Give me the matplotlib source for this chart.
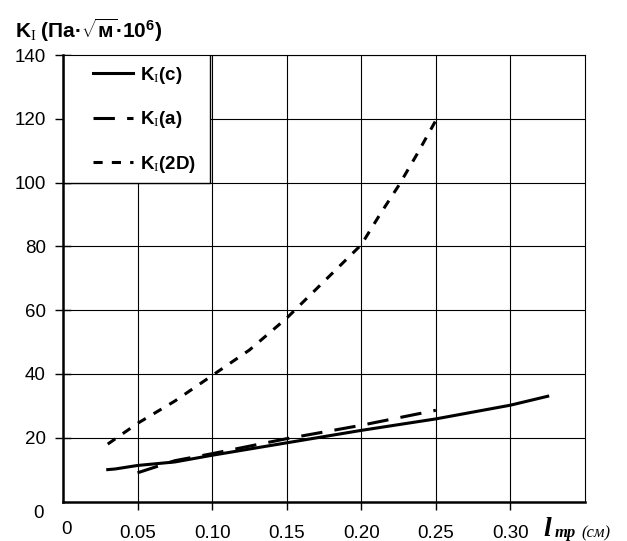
import numpy as np
import matplotlib.pyplot as plt
from matplotlib.patches import Rectangle

plt.rcParams['font.family'] = ['Liberation Sans', 'DejaVu Sans']
plt.rcParams['mathtext.fontset'] = 'custom'
plt.rcParams['mathtext.rm'] = 'Liberation Serif'
plt.rcParams['mathtext.bf'] = 'Liberation Sans:bold'
plt.rcParams['mathtext.it'] = 'Liberation Serif:italic'

# Данные
l_c = [0.03, 0.035, 0.05, 0.075, 0.10, 0.15, 0.20, 0.25, 0.30, 0.325]
k_c = [10, 10.2, 11.3, 12.4, 14.5, 18.4, 22.3, 25.9, 30.2, 33]

l_a = [0.05, 0.075, 0.10, 0.15, 0.20, 0.25]
k_a = [9, 12.8, 15, 19.7, 23.9, 28.6]

l_2d = [0.03, 0.05, 0.075, 0.10, 0.125, 0.15, 0.175, 0.20, 0.2125, 0.225, 0.2375, 0.25]
k_2d = [18, 24.5, 31.5, 39.5, 47.5, 57.5, 69, 80.5, 90, 99, 109, 119.5]

xticks = [0.05, 0.10, 0.15, 0.20, 0.25, 0.30]
yticks = [20, 40, 60, 80, 100, 120, 140]

W, H = 627, 541
fig = plt.figure(figsize=(6.27, 5.41), dpi=100)
ax = fig.add_axes([63 / W, 1 - 501.5 / H, 522 / W, 446.5 / H])

ax.plot(l_c, k_c, color='black', lw=2.2, ls='-', label=r'K$_{\mathrm{I}}$(c)')
ax.plot(l_a, k_a, color='black', lw=2.2, ls=(0, (7, 4)), label=r'K$_{\mathrm{I}}$(a)')
ax.plot(l_2d, k_2d, color='black', lw=2.2, ls=(0, (3, 3)), label=r'K$_{\mathrm{I}}$(2D)')

ax.set_xlim(0, 0.35)
ax.set_ylim(0, 140)
ax.set_xticks(xticks)
ax.set_xticklabels(['%.2f' % t for t in xticks], fontsize=13.5)
ax.set_yticks(yticks)
ax.set_yticklabels([str(t) for t in yticks], fontsize=13.5)
ax.tick_params(axis='y', direction='inout', length=11, width=1, pad=7)
ax.tick_params(axis='x', direction='out', length=6, width=1, pad=11)
ax.grid(True, color='black', lw=0.8)

for s in ['left', 'bottom']:
    ax.spines[s].set_linewidth(1.8)
for s in ['top', 'right']:
    ax.spines[s].set_linewidth(0.8)

# подписи нулей
fig.text(38 / W, 1 - 513 / H, '0', fontsize=13.5, ha='center', va='center')
fig.text(66 / W, 1 - 530 / H, '0', fontsize=13.5, ha='center', va='center')

# рамка легенды
ax.add_patch(Rectangle((0, (501.5 - 183) / 446.5), (210 - 63) / 522, 1,
                       transform=ax.transAxes, facecolor='white',
                       edgecolor='black', lw=1, zorder=2.2, clip_on=True))

leg = ax.legend(loc='upper left', bbox_to_anchor=(30 / 522, (501.5 - 65) / 446.5),
                frameon=False, borderaxespad=0, borderpad=0,
                prop={'weight': 'bold', 'size': 13.5}, handlelength=2.15,
                labelspacing=1.25, handletextpad=0.35)

fig.text(15 / W, 1 - 30 / H,
         r'$\mathbf{K}_{\mathrm{I}}\ \mathbf{(Па·}\sqrt{\mathbf{м}}\mathbf{·10}^{\mathbf{6}}\mathbf{)}$',
         fontsize=15, ha='left', va='center')
fig.text(543 / W, 1 - 530 / H, 'l', fontsize=20, style='italic',
         weight='bold', ha='left', va='center', family='Liberation Serif')
fig.text(555 / W, 1 - 533 / H, 'тр', fontsize=12, style='italic',
         weight='bold', ha='left', va='center', family='Liberation Serif')
fig.text(581 / W, 1 - 533 / H, '(см)', fontsize=12, style='italic',
         ha='left', va='center', family='Liberation Serif')

fig.savefig('out.png', dpi=100)
